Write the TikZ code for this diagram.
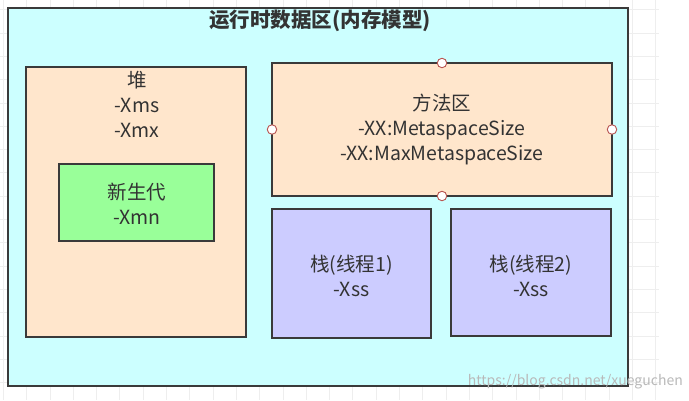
\documentclass[tikz,border=0pt]{standalone}
\usepackage{fontspec}
\setmainfont{Noto Sans CJK SC}
\definecolor{cyanbg}{HTML}{CCFFFF}
\definecolor{peach}{HTML}{FFE6CC}
\definecolor{greenbox}{HTML}{99FF99}
\definecolor{lav}{HTML}{CCCCFF}
\definecolor{edge}{HTML}{3A3A3A}
\definecolor{txt}{HTML}{333333}
\definecolor{handle}{HTML}{B85450}
\definecolor{gridc}{HTML}{EEEEEE}
\tikzset{
  areabox/.style={draw=edge, line width=2.2pt, inner sep=0pt, outer sep=0pt},
  lbl/.style={text=txt, align=center, inner sep=0pt, font=\fontsize{19.5}{24.7}\selectfont},
  ttl/.style={text=txt, inner sep=0pt, font=\fontsize{20.5}{24}\selectfont\bfseries},
  hdl/.style={circle, draw=handle, fill=white, line width=0.9pt, minimum size=9.5pt, inner sep=0pt},
  wm/.style={text=gray!55, inner sep=0pt, font=\fontsize{14}{16}\selectfont}
}
\begin{document}
\begin{tikzpicture}[x=1pt,y=-1pt]
\useasboundingbox (0,0) rectangle (689,400);
\fill[white] (0,0) rectangle (689,400);
% faint background grid
\foreach \gx in {3.3,26.6,...,660} {\draw[gridc, line width=0.8pt] (\gx,0) -- (\gx,400);}
\foreach \gy in {9.7,33,...,400} {\draw[gridc, line width=0.8pt] (0,\gy) -- (659,\gy);}
% outer region
\node[areabox, fill=cyanbg, minimum width=620pt, minimum height=378pt] (outer) at (318,197) {};
\node[ttl] (title) at (320,21) {运行时数据区(内存模型)};
% heap
\node[areabox, fill=peach, minimum width=220pt, minimum height=270pt] (heap) at (136,202) {};
\node[lbl] (heaplbl) at (137,104.5) {堆\\-Xms\\-Xmx};
\node[areabox, fill=greenbox, minimum width=155pt, minimum height=77pt] (young) at (136.5,202.5) {};
\node[lbl] (younglbl) at (137,203.5) {新生代\\-Xmn};
% method area
\node[areabox, fill=peach, minimum width=340pt, minimum height=133pt] (method) at (442,129.5) {};
\node[lbl] (methodlbl) at (442,129.5) {方法区\\-XX:MetaspaceSize\\-XX:MaxMetaspaceSize};
\node[hdl] (hn) at (method.north) {};
\node[hdl] (hs) at (method.south) {};
\node[hdl] (hw) at (method.west) {};
\node[hdl] (he) at (method.east) {};
% stacks
\node[areabox, fill=lav, minimum width=159pt, minimum height=129pt] (stack1) at (351.5,273.5) {};
\node[lbl] (stack1lbl) at (351.5,276) {栈(线程1)\\-Xss};
\node[areabox, fill=lav, minimum width=160pt, minimum height=127pt] (stack2) at (531,272.5) {};
\node[lbl] (stack2lbl) at (531,276) {栈(线程2)\\-Xss};
% watermark
\node[wm, anchor=east] (mark) at (683,382) {https://blog.csdn.net/xueguchen};
\end{tikzpicture}
\end{document}
